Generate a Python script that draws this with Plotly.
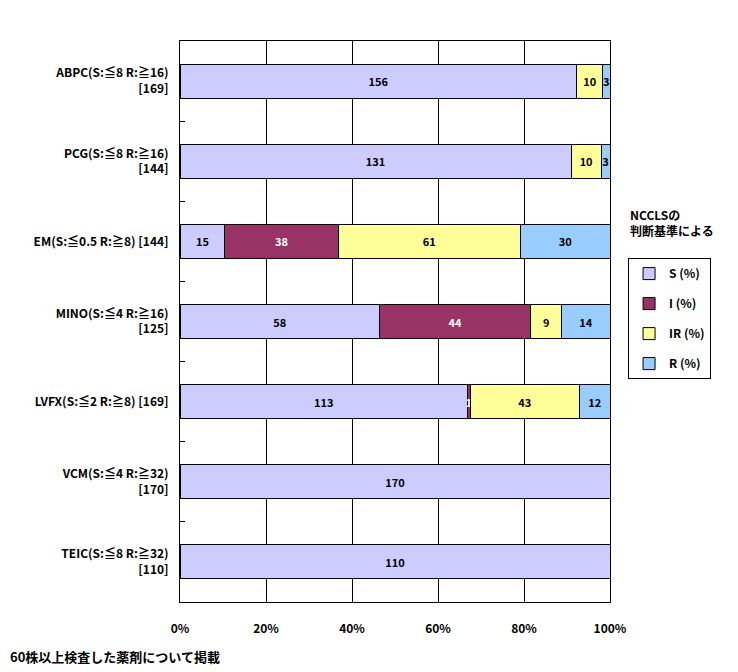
import plotly.graph_objects as go

# drug names (with breakpoints) and number of isolates
drugs = [
    "ABPC(S:≦8 R:≧16)<br>[169]",
    "PCG(S:≦8 R:≧16)<br>[144]",
    "EM(S:≦0.5 R:≧8) [144]",
    "MINO(S:≦4 R:≧16)<br>[125]",
    "LVFX(S:≦2 R:≧8) [169]",
    "VCM(S:≦4 R:≧32)<br>[170]",
    "TEIC(S:≦8 R:≧32)<br>[110]",
]

# counts per category (S / I / IR / R)
s_counts = [156, 131, 15, 58, 113, 170, 110]
i_counts = [0, 0, 38, 44, 1, 0, 0]
ir_counts = [10, 10, 61, 9, 43, 0, 0]
r_counts = [3, 3, 30, 14, 12, 0, 0]

series = [
    ("S (%)", s_counts, "#CCCCFF", "black"),
    ("I (%)", i_counts, "#993366", "white"),
    ("IR (%)", ir_counts, "#FFFF99", "black"),
    ("R (%)", r_counts, "#99CCFF", "black"),
]

FONT = "Noto Sans CJK JP"

fig = go.Figure()

for name, vals, color, txtcolor in series:
    # hide labels for empty segments
    labels = [str(v) if v > 0 else "" for v in vals]
    fig.add_trace(go.Bar(
        y=drugs,
        x=vals,
        name=name,
        legendgroup=name,
        orientation="h",
        marker=dict(color=color, line=dict(color="black", width=1)),
        text=labels,
        textposition="inside",
        insidetextanchor="middle",
        textangle=0,
        textfont=dict(color=txtcolor, size=11, family=FONT, weight="bold"),
        constraintext="none",
    ))

# page body adds an 8px margin, so the figure is a bit smaller than the window
fig.update_layout(
    barmode="stack",
    barnorm="percent",
    bargap=0.575,
    width=730,
    height=664,
    paper_bgcolor="white",
    plot_bgcolor="white",
    font=dict(family=FONT, color="black", size=12, weight="bold"),
    margin=dict(l=172, r=128, t=33, b=70),
    uniformtext=dict(minsize=8, mode="show"),
    legend=dict(
        x=1.042, y=0.613, xanchor="left", yanchor="top",
        bordercolor="black",
        borderwidth=1,
        bgcolor="white",
        traceorder="grouped",
        font=dict(size=12, family=FONT, weight="bold"),
        itemwidth=30,
        tracegroupgap=11,
    ),
    xaxis=dict(
        range=[0, 100],
        tickvals=[0, 20, 40, 60, 80, 100],
        ticktext=["0%", "20%", "40%", "60%", "80%", "100%"],
        showgrid=True,
        gridcolor="black",
        gridwidth=1,
        showline=True,
        linecolor="black",
        mirror=True,
        zeroline=False,
        ticks="",
        automargin=False,
        ticklabelstandoff=16,
        tickfont=dict(size=12, family=FONT, weight="bold"),
    ),
    yaxis=dict(
        autorange="reversed",
        showline=True,
        linecolor="black",
        mirror=True,
        showgrid=False,
        ticks="inside",
        ticklen=5,
        tickcolor="black",
        tickson="boundaries",
        automargin=False,
        ticklabelstandoff=8,
        tickfont=dict(size=12, family=FONT, weight="bold"),
    ),
)

fig.add_annotation(
    text="NCCLSの<br>判断基準による",
    xref="paper", yref="paper",
    x=1.042, y=0.71, xanchor="left", yanchor="top",
    align="left", showarrow=False,
    font=dict(size=12, family=FONT, weight="bold"),
)

fig.add_annotation(
    text="60株以上検査した薬剤について掲載",
    xref="paper", yref="paper",
    x=-172 / 430, y=-0.098, xanchor="left", yanchor="middle",
    align="left", showarrow=False,
    font=dict(size=13, family=FONT, weight="bold"),
)

fig.write_html("out.html")
